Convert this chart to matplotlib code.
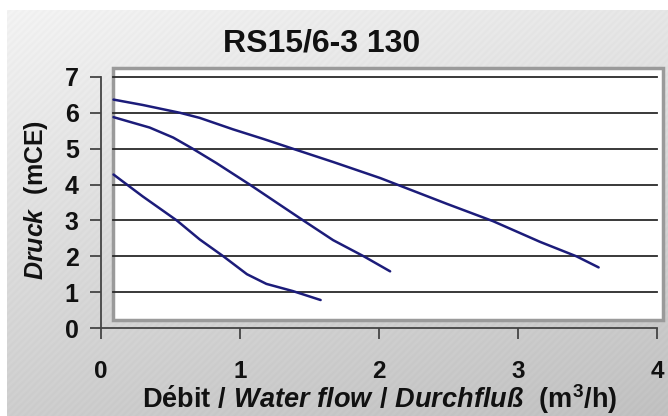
import numpy as np
import matplotlib
matplotlib.use("Agg")
import matplotlib.pyplot as plt
from matplotlib.patches import Rectangle

# ---- data ----
x_top = [0.09, 0.3, 0.57, 0.71, 0.95, 1.17, 1.38, 1.67, 2.01, 2.13, 2.49, 2.82, 3.16, 3.42, 3.58]
y_top = [6.37, 6.22, 6.0, 5.86, 5.54, 5.27, 5.0, 4.63, 4.18, 4.0, 3.46, 2.98, 2.4, 2.0, 1.69]
x_mid = [0.09, 0.35, 0.52, 0.66, 0.83, 1.07, 1.27, 1.455, 1.67, 1.89, 2.08]
y_mid = [5.88, 5.59, 5.31, 5.0, 4.6, 4.0, 3.48, 3.0, 2.45, 2.0, 1.58]
x_low = [0.09, 0.3, 0.545, 0.71, 0.88, 1.05, 1.19, 1.38, 1.58]
y_low = [4.28, 3.67, 3.0, 2.47, 2.0, 1.5, 1.23, 1.03, 0.78]
x_ticks = [0, 1, 2, 3, 4]
y_ticks = [0, 1, 2, 3, 4, 5, 6, 7]
title = "RS15/6-3 130"

plt.rcParams['font.family'] = ['Liberation Sans', 'DejaVu Sans']
plt.rcParams['mathtext.fontset'] = 'custom'
plt.rcParams['mathtext.rm'] = 'Liberation Sans:bold'
plt.rcParams['mathtext.it'] = 'Liberation Sans:bold:italic'
plt.rcParams['mathtext.bf'] = 'Liberation Sans:bold'

W, H = 668, 416
fig = plt.figure(figsize=(W / 100, H / 100), dpi=100)

# background gradient
bg = fig.add_axes([0, 0, 1, 1])
bg.set_axis_off()
yy, xx = np.mgrid[0:H, 0:W]
t = 0.75 * (yy / H) + 0.25 * (xx / W)
val = 0.955 - 0.20 * t
stripes = 0.008 * np.sin((xx + yy) * 2 * np.pi / 7.0)
val = val + stripes
img = np.dstack([val, val, val])
img[:10, :, :] = 1.0
img[:, :7, :] = 1.0
bg.imshow(np.clip(img, 0, 1), extent=[0, W, H, 0], aspect='auto')
bg.set_xlim(0, W)
bg.set_ylim(H, 0)

ax = fig.add_axes([101 / W, 1 - 328 / H, (657 - 101) / W, (328 - 77) / H])
ax.patch.set_alpha(0)
ax.set_xlim(0, 4)
ax.set_ylim(0, 7)

# white plot area with grey border
rect = Rectangle((0.083, 0.22), 4.04 - 0.083, 7.24 - 0.22, facecolor='white',
                 edgecolor='#9a9a9a', linewidth=2.5, clip_on=False, zorder=0)
ax.add_patch(rect)
for g in y_ticks[1:]:
    ax.plot([0.083, 4.0], [g, g], color='#2a2a2a', lw=1.3, clip_on=False, zorder=1)

lc = '#1c1c7a'
for xs, ys in [(x_top, y_top), (x_mid, y_mid), (x_low, y_low)]:
    ax.plot(xs, ys, color=lc, lw=1.8, zorder=3, solid_capstyle='round',
            solid_joinstyle='round')

for s in ['top', 'right']:
    ax.spines[s].set_visible(False)
for s in ['left', 'bottom']:
    ax.spines[s].set_color('#444444')
    ax.spines[s].set_linewidth(1.3)

ax.set_xticks(x_ticks)
ax.set_yticks(y_ticks)
ax.tick_params(axis='both', direction='out', length=8, width=1.3, color='#444444')
ax.tick_params(axis='x', pad=15, labelsize=17.5)
ax.tick_params(axis='y', pad=8, labelsize=18)
for lab in ax.get_xticklabels() + ax.get_yticklabels():
    lab.set_fontweight('bold')
    lab.set_color('#111111')

fig.text(322 / W, 1 - 43 / H, title, ha='center', va='center',
         fontsize=23, fontweight='bold', color='#111111')

fig.text(380 / W, 1 - 408 / H,
         r'$\mathrm{D\acute{e}bit\ /\ }\mathit{Water\ flow\ /\ Durchflu\ss}\ \ \mathrm{(m^3/h)}$',
         ha='center', va='baseline', fontsize=19.5, color='#111111')
fig.text(36 / W, 1 - 200 / H, r'$\mathit{Druck}\ \ \mathrm{(mCE)}$',
         ha='center', va='center', rotation=90, fontsize=18, color='#111111')

fig.savefig('out.png', dpi=100)
